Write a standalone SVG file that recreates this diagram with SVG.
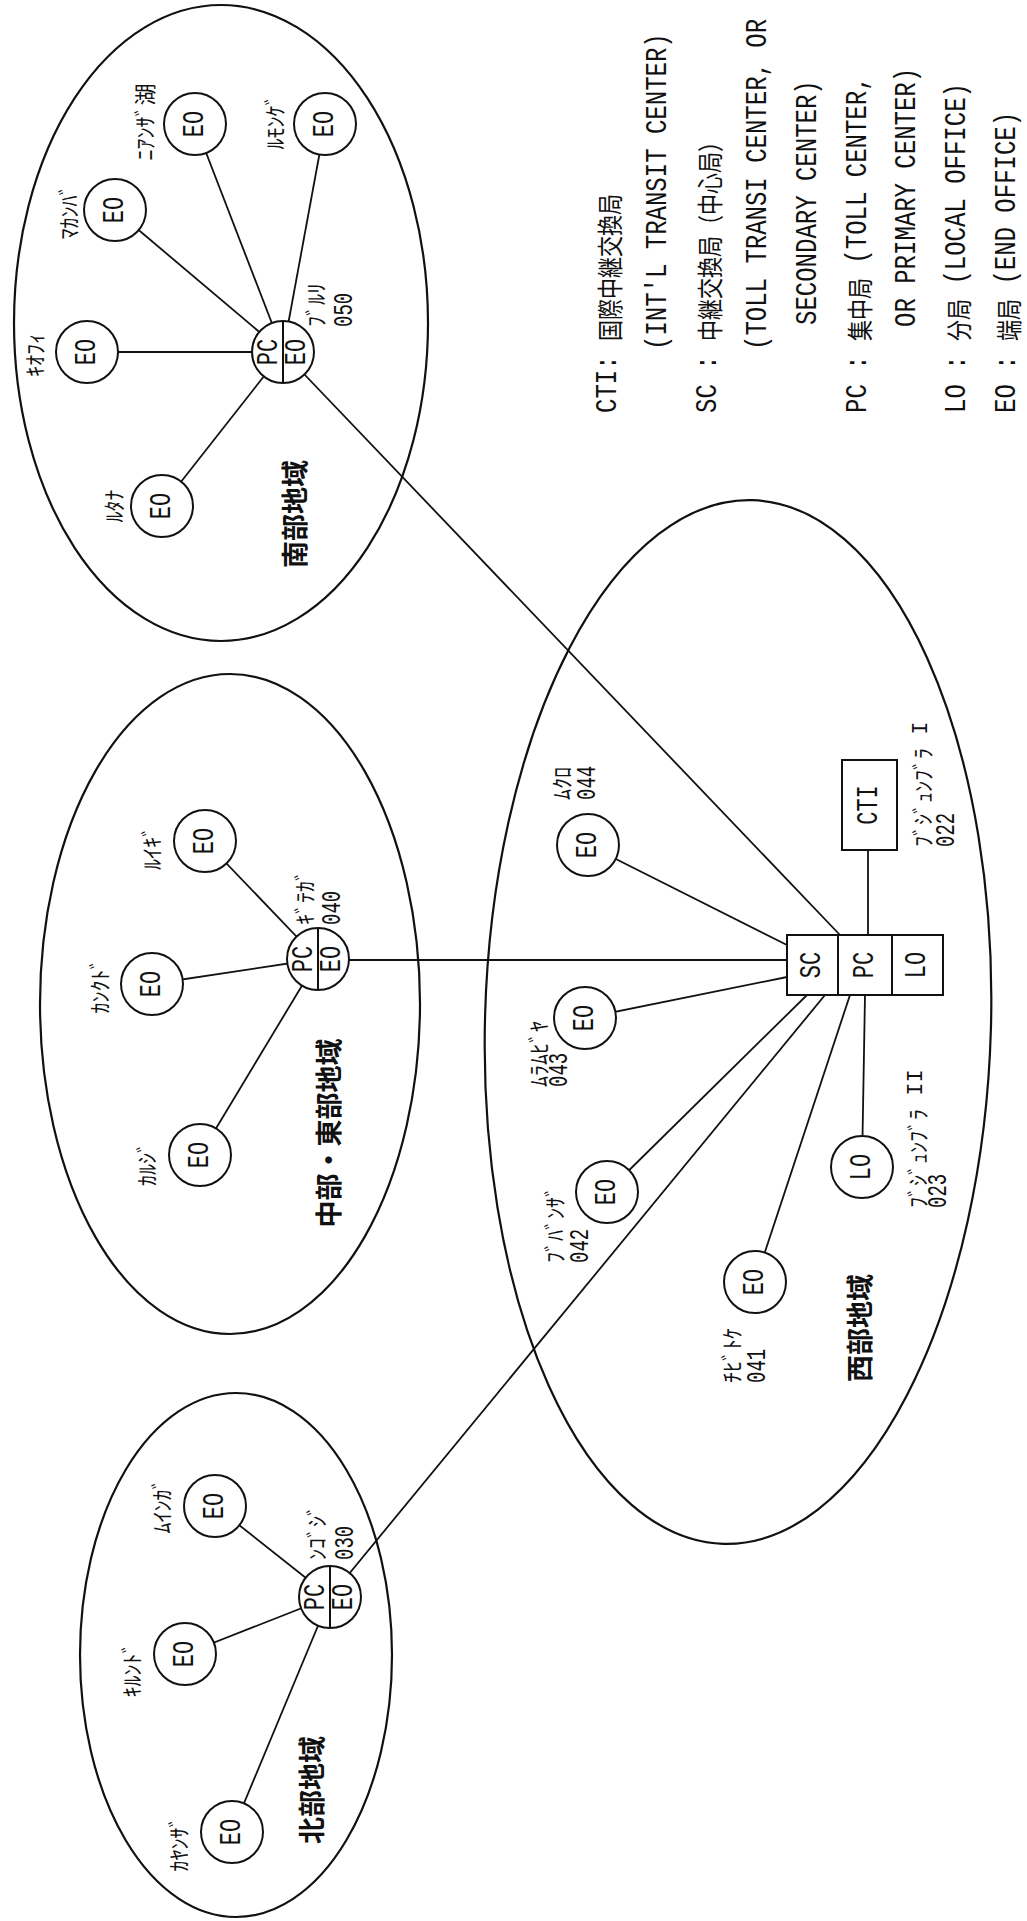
<svg xmlns="http://www.w3.org/2000/svg" width="1027" height="1921" viewBox="0 0 1027 1921">
<style>
  .region{fill:none;stroke:#111;stroke-width:2.2}
  .node{fill:#fff;stroke:#111;stroke-width:2}
  .link{stroke:#111;stroke-width:1.8;fill:none}
  .split{stroke:#111;stroke-width:2}
  text{fill:#111}
  .id{font-family:"Liberation Mono",monospace;font-size:22px}
  .kana{font-family:"Noto Sans CJK JP",sans-serif;font-size:22px}
  .num{font-family:"Liberation Mono",monospace;font-size:19px}
  .area{font-family:"Noto Sans CJK JP",sans-serif;font-size:27px;font-weight:700}
  .lg{font-family:"Liberation Mono",monospace;font-size:24px}
  .lk{font-family:"Noto Sans CJK JP",sans-serif;font-size:21px}
</style>
<rect width="1027" height="1921" fill="#fff"/>

<!-- area outlines -->
<g id="areas">
  <ellipse class="region" cx="221" cy="323" rx="207" ry="318"/>
  <ellipse class="region" cx="230" cy="1004" rx="190" ry="330"/>
  <ellipse class="region" cx="236" cy="1655" rx="156" ry="262"/>
  <ellipse class="region" cx="738" cy="1022" rx="253" ry="522" transform="rotate(1.6 738 1022)"/>
</g>

<!-- connectors -->
<g id="connectors">
  <!-- south area -->
  <line class="link" x1="283" y1="352" x2="87" y2="352"/>
  <line class="link" x1="283" y1="352" x2="115" y2="210"/>
  <line class="link" x1="283" y1="352" x2="195" y2="124"/>
  <line class="link" x1="283" y1="352" x2="325" y2="124"/>
  <line class="link" x1="283" y1="352" x2="162" y2="506"/>
  <!-- middle/east area -->
  <line class="link" x1="318" y1="959" x2="205" y2="841"/>
  <line class="link" x1="318" y1="959" x2="152" y2="984"/>
  <line class="link" x1="318" y1="959" x2="200" y2="1155"/>
  <!-- north area -->
  <line class="link" x1="330" y1="1597" x2="215" y2="1506"/>
  <line class="link" x1="330" y1="1597" x2="185" y2="1654"/>
  <line class="link" x1="330" y1="1597" x2="232" y2="1832"/>
  <!-- trunks to the SC/PC/LO centre -->
  <line class="link" x1="283" y1="352" x2="840" y2="935"/>
  <line class="link" x1="318" y1="960" x2="787" y2="960"/>
  <line class="link" x1="330" y1="1597" x2="825" y2="995"/>
  <!-- west area -->
  <line class="link" x1="588" y1="845" x2="787" y2="945"/>
  <line class="link" x1="585" y1="1018" x2="787" y2="977"/>
  <line class="link" x1="607" y1="1192" x2="807" y2="995"/>
  <line class="link" x1="755" y1="1282" x2="850" y2="995"/>
  <line class="link" x1="862" y1="1167" x2="865" y2="995"/>
  <line class="link" x1="868" y1="850" x2="868" y2="935"/>
</g>

<!-- south area -->
<g id="south-label">
  <text class="area" text-anchor="middle" dominant-baseline="central" transform="translate(293 514) rotate(-90)">南部地域</text>
</g>
<g id="s-pc">
  <circle class="node" cx="283" cy="352" r="31"/>
  <line class="split" x1="283" y1="321" x2="283" y2="383"/>
  <text class="id" text-anchor="middle" dominant-baseline="central" transform="translate(269 352) rotate(-90) scale(1 1.35)">PC</text>
  <text class="id" text-anchor="middle" dominant-baseline="central" transform="translate(297 352) rotate(-90) scale(1 1.35)">EO</text>
  <text class="kana" dominant-baseline="central" transform="translate(314 327) rotate(-90)">ﾌﾞﾙﾘ</text>
  <text class="num" dominant-baseline="central" transform="translate(344 327) rotate(-90) scale(1 1.5)">050</text>
</g>
<g id="s-kiofi">
  <circle class="node" cx="87" cy="352" r="31"/>
  <text class="id" text-anchor="middle" dominant-baseline="central" transform="translate(87 352) rotate(-90) scale(1 1.35)">EO</text>
  <text class="kana" text-anchor="middle" dominant-baseline="central" transform="translate(33 355) rotate(-90)">ｷｵﾌｨ</text>
</g>
<g id="s-makamba">
  <circle class="node" cx="115" cy="210" r="31"/>
  <text class="id" text-anchor="middle" dominant-baseline="central" transform="translate(115 210) rotate(-90) scale(1 1.35)">EO</text>
  <text class="kana" text-anchor="middle" dominant-baseline="central" transform="translate(67 212) rotate(-90)">ﾏｶﾝﾊﾞ</text>
</g>
<g id="s-nyanza">
  <circle class="node" cx="195" cy="124" r="31"/>
  <text class="id" text-anchor="middle" dominant-baseline="central" transform="translate(195 124) rotate(-90) scale(1 1.35)">EO</text>
  <text class="kana" text-anchor="middle" dominant-baseline="central" transform="translate(143 122) rotate(-90)">ﾆｱﾝｻﾞ湖</text>
</g>
<g id="s-rumonge">
  <circle class="node" cx="325" cy="124" r="31"/>
  <text class="id" text-anchor="middle" dominant-baseline="central" transform="translate(325 124) rotate(-90) scale(1 1.35)">EO</text>
  <text class="kana" text-anchor="middle" dominant-baseline="central" transform="translate(273 122) rotate(-90)">ﾙﾓﾝｹﾞ</text>
</g>
<g id="s-rutana">
  <circle class="node" cx="162" cy="506" r="31"/>
  <text class="id" text-anchor="middle" dominant-baseline="central" transform="translate(162 506) rotate(-90) scale(1 1.35)">EO</text>
  <text class="kana" text-anchor="middle" dominant-baseline="central" transform="translate(112 506) rotate(-90)">ﾙﾀﾅ</text>
</g>

<!-- middle / east area -->
<g id="middle-label">
  <text class="area" text-anchor="middle" dominant-baseline="central" transform="translate(327 1133) rotate(-90)">中部・東部地域</text>
</g>
<g id="m-pc">
  <circle class="node" cx="318" cy="959" r="31"/>
  <line class="split" x1="318" y1="928" x2="318" y2="990"/>
  <text class="id" text-anchor="middle" dominant-baseline="central" transform="translate(304 959) rotate(-90) scale(1 1.35)">PC</text>
  <text class="id" text-anchor="middle" dominant-baseline="central" transform="translate(332 959) rotate(-90) scale(1 1.35)">EO</text>
  <text class="kana" dominant-baseline="central" transform="translate(303 925) rotate(-90)">ｷﾞﾃｶﾞ</text>
  <text class="num" dominant-baseline="central" transform="translate(332 925) rotate(-90) scale(1 1.5)">040</text>
</g>
<g id="m-ruyigi">
  <circle class="node" cx="205" cy="841" r="31"/>
  <text class="id" text-anchor="middle" dominant-baseline="central" transform="translate(205 841) rotate(-90) scale(1 1.35)">EO</text>
  <text class="kana" text-anchor="middle" dominant-baseline="central" transform="translate(150 848) rotate(-90)">ﾙｲｷﾞ</text>
</g>
<g id="m-cankuzo">
  <circle class="node" cx="152" cy="984" r="31"/>
  <text class="id" text-anchor="middle" dominant-baseline="central" transform="translate(152 984) rotate(-90) scale(1 1.35)">EO</text>
  <text class="kana" text-anchor="middle" dominant-baseline="central" transform="translate(98 986) rotate(-90)">ｶﾝｸﾄﾞ</text>
</g>
<g id="m-karusi">
  <circle class="node" cx="200" cy="1155" r="31"/>
  <text class="id" text-anchor="middle" dominant-baseline="central" transform="translate(200 1155) rotate(-90) scale(1 1.35)">EO</text>
  <text class="kana" text-anchor="middle" dominant-baseline="central" transform="translate(145 1164) rotate(-90)">ｶﾙｼﾞ</text>
</g>

<!-- north area -->
<g id="north-label">
  <text class="area" text-anchor="middle" dominant-baseline="central" transform="translate(310 1790) rotate(-90)">北部地域</text>
</g>
<g id="n-pc">
  <circle class="node" cx="330" cy="1597" r="31"/>
  <line class="split" x1="330" y1="1566" x2="330" y2="1628"/>
  <text class="id" text-anchor="middle" dominant-baseline="central" transform="translate(316 1597) rotate(-90) scale(1 1.35)">PC</text>
  <text class="id" text-anchor="middle" dominant-baseline="central" transform="translate(344 1597) rotate(-90) scale(1 1.35)">EO</text>
  <text class="kana" dominant-baseline="central" transform="translate(315 1560) rotate(-90)">ﾝｺﾞｼﾞ</text>
  <text class="num" dominant-baseline="central" transform="translate(345 1560) rotate(-90) scale(1 1.5)">030</text>
</g>
<g id="n-muyinga">
  <circle class="node" cx="215" cy="1506" r="31"/>
  <text class="id" text-anchor="middle" dominant-baseline="central" transform="translate(215 1506) rotate(-90) scale(1 1.35)">EO</text>
  <text class="kana" text-anchor="middle" dominant-baseline="central" transform="translate(160 1506) rotate(-90)">ﾑｲﾝｶﾞ</text>
</g>
<g id="n-kirundo">
  <circle class="node" cx="185" cy="1654" r="31"/>
  <text class="id" text-anchor="middle" dominant-baseline="central" transform="translate(185 1654) rotate(-90) scale(1 1.35)">EO</text>
  <text class="kana" text-anchor="middle" dominant-baseline="central" transform="translate(130 1670) rotate(-90)">ｷﾙﾝﾄﾞ</text>
</g>
<g id="n-kayanza">
  <circle class="node" cx="232" cy="1832" r="31"/>
  <text class="id" text-anchor="middle" dominant-baseline="central" transform="translate(232 1832) rotate(-90) scale(1 1.35)">EO</text>
  <text class="kana" text-anchor="middle" dominant-baseline="central" transform="translate(177 1844) rotate(-90)">ｶﾔﾝｻﾞ</text>
</g>

<!-- west area -->
<g id="west-label">
  <text class="area" text-anchor="middle" dominant-baseline="central" transform="translate(858 1328) rotate(-90)">西部地域</text>
</g>
<g id="w-centre">
  <rect class="node" x="787" y="935" width="156" height="60"/>
  <line class="split" x1="838" y1="935" x2="838" y2="995"/>
  <line class="split" x1="892" y1="935" x2="892" y2="995"/>
  <text class="id" text-anchor="middle" dominant-baseline="central" transform="translate(812 965) rotate(-90) scale(1 1.35)">SC</text>
  <text class="id" text-anchor="middle" dominant-baseline="central" transform="translate(865 965) rotate(-90) scale(1 1.35)">PC</text>
  <text class="id" text-anchor="middle" dominant-baseline="central" transform="translate(917 965) rotate(-90) scale(1 1.35)">LO</text>
</g>
<g id="w-cti">
  <rect class="node" x="842" y="760" width="55" height="90"/>
  <text class="id" text-anchor="middle" dominant-baseline="central" transform="translate(869 805) rotate(-90) scale(1 1.35)">CTI</text>
  <text class="kana" dominant-baseline="central" transform="translate(921 847) rotate(-90)">ﾌﾞｼﾞｭﾝﾌﾞﾗ<tspan class="id" font-size="20"> I</tspan></text>
  <text class="num" dominant-baseline="central" transform="translate(946 847) rotate(-90) scale(1 1.5)">022</text>
</g>
<g id="w-lo">
  <circle class="node" cx="862" cy="1167" r="31"/>
  <text class="id" text-anchor="middle" dominant-baseline="central" transform="translate(862 1167) rotate(-90) scale(1 1.35)">LO</text>
  <text class="kana" dominant-baseline="central" transform="translate(916 1208) rotate(-90)">ﾌﾞｼﾞｭﾝﾌﾞﾗ<tspan class="id" font-size="20"> II</tspan></text>
  <text class="num" dominant-baseline="central" transform="translate(938 1208) rotate(-90) scale(1 1.5)">023</text>
</g>
<g id="w-044">
  <circle class="node" cx="588" cy="845" r="31"/>
  <text class="id" text-anchor="middle" dominant-baseline="central" transform="translate(588 845) rotate(-90) scale(1 1.35)">EO</text>
  <text class="kana" dominant-baseline="central" transform="translate(560 800) rotate(-90)">ﾑｸﾛ</text>
  <text class="num" dominant-baseline="central" transform="translate(587 800) rotate(-90) scale(1 1.5)">044</text>
</g>
<g id="w-043">
  <circle class="node" cx="585" cy="1018" r="31"/>
  <text class="id" text-anchor="middle" dominant-baseline="central" transform="translate(585 1018) rotate(-90) scale(1 1.35)">EO</text>
  <text class="kana" dominant-baseline="central" transform="translate(537 1087) rotate(-90)">ﾑﾗﾑﾋﾞﾔ</text>
  <text class="num" dominant-baseline="central" transform="translate(559 1087) rotate(-90) scale(1 1.5)">043</text>
</g>
<g id="w-042">
  <circle class="node" cx="607" cy="1192" r="31"/>
  <text class="id" text-anchor="middle" dominant-baseline="central" transform="translate(607 1192) rotate(-90) scale(1 1.35)">EO</text>
  <text class="kana" dominant-baseline="central" transform="translate(553 1263) rotate(-90)">ﾌﾞﾊﾞﾝｻﾞ</text>
  <text class="num" dominant-baseline="central" transform="translate(580 1263) rotate(-90) scale(1 1.5)">042</text>
</g>
<g id="w-041">
  <circle class="node" cx="755" cy="1282" r="31"/>
  <text class="id" text-anchor="middle" dominant-baseline="central" transform="translate(755 1282) rotate(-90) scale(1 1.35)">EO</text>
  <text class="kana" dominant-baseline="central" transform="translate(730 1383) rotate(-90)">ﾁﾋﾞﾄｹ</text>
  <text class="num" dominant-baseline="central" transform="translate(757 1383) rotate(-90) scale(1 1.5)">041</text>
</g>

<!-- legend -->
<g id="legend">
  <text class="lg" xml:space="preserve" dominant-baseline="central" transform="translate(608 413) rotate(-90) scale(1 1.25)">CTI: <tspan class="lk">国際中継交換局</tspan></text>
  <text class="lg" dominant-baseline="central" transform="translate(658 350) rotate(-90) scale(1 1.25)">(INT'L TRANSIT CENTER)</text>
  <text class="lg" xml:space="preserve" dominant-baseline="central" transform="translate(708 413) rotate(-90) scale(1 1.25)">SC : <tspan class="lk">中継交換局（中心局）</tspan></text>
  <text class="lg" dominant-baseline="central" transform="translate(758 350) rotate(-90) scale(1 1.25)">(TOLL TRANSI CENTER, OR</text>
  <text class="lg" dominant-baseline="central" transform="translate(808 325) rotate(-90) scale(1 1.25)">SECONDARY CENTER)</text>
  <text class="lg" xml:space="preserve" dominant-baseline="central" transform="translate(858 413) rotate(-90) scale(1 1.25)">PC : <tspan class="lk">集中局</tspan> (TOLL CENTER,</text>
  <text class="lg" dominant-baseline="central" transform="translate(907 327) rotate(-90) scale(1 1.25)">OR PRIMARY CENTER)</text>
  <text class="lg" xml:space="preserve" dominant-baseline="central" transform="translate(957 413) rotate(-90) scale(1 1.25)">LO : <tspan class="lk">分局</tspan> (LOCAL OFFICE)</text>
  <text class="lg" xml:space="preserve" dominant-baseline="central" transform="translate(1007 413) rotate(-90) scale(1 1.25)">EO : <tspan class="lk">端局</tspan> (END OFFICE)</text>
</g>
</svg>
